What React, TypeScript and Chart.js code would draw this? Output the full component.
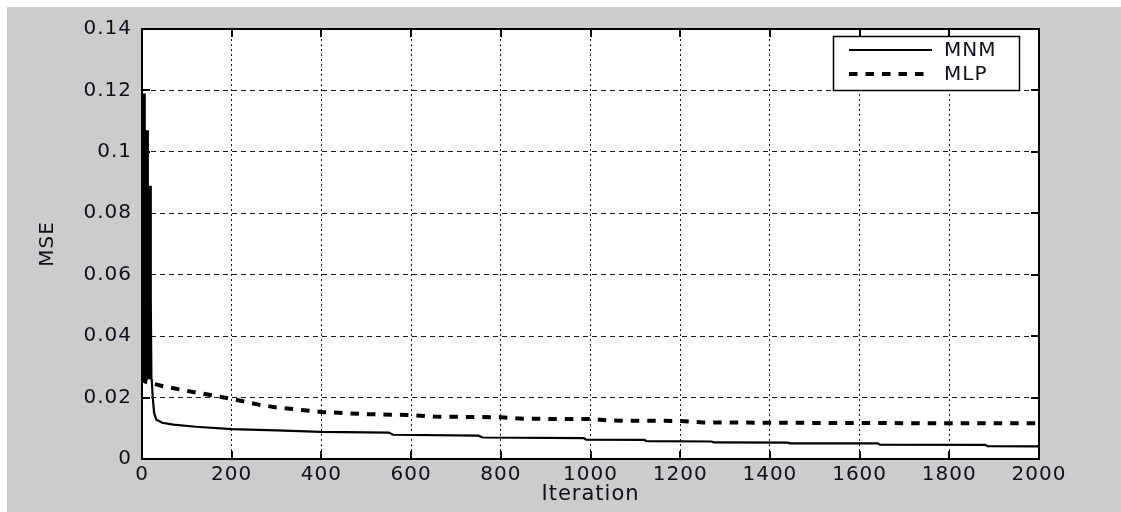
import React, { useEffect, useRef } from 'react';
import { Chart, registerables } from 'chart.js';

Chart.register(...registerables);

// ---- data ----
const mnmIter = [0, 1, 2, 3, 4, 5, 6, 7, 8, 9, 10, 11, 12, 13, 14, 15, 16, 17, 18, 19, 20, 21, 22, 24, 27, 32, 45, 70, 120, 200, 300, 400, 550, 560, 750, 760, 985, 990, 1120, 1125, 1270, 1275, 1440, 1445, 1640, 1645, 1880, 1885, 2000];
const mnmMse = [0.119, 0.026, 0.119, 0.026, 0.119, 0.026, 0.119, 0.026, 0.107, 0.026, 0.107, 0.026, 0.107, 0.026, 0.089, 0.026, 0.089, 0.026, 0.089, 0.026, 0.053, 0.026, 0.025, 0.02, 0.015, 0.0128, 0.0118, 0.0112, 0.0105, 0.0097, 0.0093, 0.0088, 0.0086, 0.0079, 0.0076, 0.0070, 0.0068, 0.0063, 0.0062, 0.0058, 0.0057, 0.0054, 0.0053, 0.0051, 0.0051, 0.0047, 0.0046, 0.0042, 0.0041];

const mlpIter = [0, 3, 10, 25, 50, 100, 130, 200, 260, 300, 400, 500, 600, 650, 800, 850, 1000, 1050, 1200, 1250, 1600, 2000];
const mlpMse = [0.086, 0.0255, 0.025, 0.0245, 0.0236, 0.0222, 0.0214, 0.0196, 0.0177, 0.0168, 0.0153, 0.0146, 0.0143, 0.0138, 0.0136, 0.0131, 0.013, 0.0125, 0.0124, 0.0119, 0.0117, 0.0116];

const xTickValues = [0, 200, 400, 600, 800, 1000, 1200, 1400, 1600, 1800, 2000];
const xTickLabels = ['0', '200', '400', '600', '800', '1000', '1200', '1400', '1600', '1800', '2000'];
const yTickValues = [0, 0.02, 0.04, 0.06, 0.08, 0.1, 0.12, 0.14];
const yTickLabels = ['0', '0.02', '0.04', '0.06', '0.08', '0.1', '0.12', '0.14'];

const seriesLabels = ['MNM', 'MLP'];
const xTitle = 'Iteration';
const yTitle = 'MSE';

const FONT = "'DejaVu Sans', 'Liberation Sans', sans-serif";
const TEXT = '#10101c';

const matlabPlugin = {
  id: 'matlabLook',
  beforeDraw(chart: any) {
    const { ctx, chartArea: a } = chart;
    (ctx as any).letterSpacing = '1px';
    ctx.save();
    ctx.fillStyle = '#ffffff';
    ctx.fillRect(a.left, a.top, a.right - a.left, a.bottom - a.top);
    ctx.restore();
  },
  afterDraw(chart: any) {
    const { ctx, chartArea: a } = chart;
    const xs = chart.scales.x;
    const ys = chart.scales.y;
    ctx.save();
    ctx.setLineDash([]);
    ctx.strokeStyle = '#000';
    ctx.lineWidth = 2;
    const tl = 8;
    ctx.beginPath();
    xs.ticks.forEach((t: any) => {
      const px = Math.round(xs.getPixelForValue(t.value));
      ctx.moveTo(px, a.bottom); ctx.lineTo(px, a.bottom - tl);
      ctx.moveTo(px, a.top); ctx.lineTo(px, a.top + tl);
    });
    ys.ticks.forEach((t: any) => {
      const py = Math.round(ys.getPixelForValue(t.value));
      ctx.moveTo(a.left, py); ctx.lineTo(a.left + tl, py);
      ctx.moveTo(a.right, py); ctx.lineTo(a.right - tl, py);
    });
    ctx.stroke();
    ctx.strokeRect(Math.round(a.left), Math.round(a.top), Math.round(a.right - a.left), Math.round(a.bottom - a.top));

    // legend box (top-right, inside the axes)
    const bx = a.right - 206, by = a.top + 7, bw = 186, bh = 54;
    ctx.fillStyle = '#ffffff';
    ctx.fillRect(bx, by, bw, bh);
    ctx.lineWidth = 1.5;
    ctx.strokeStyle = '#000';
    ctx.strokeRect(bx + 0.5, by + 0.5, bw, bh);
    const ds = chart.data.datasets;
    const rows = [by + 14, by + 38];
    ds.forEach((d: any, i: number) => {
      const y = rows[i];
      ctx.beginPath();
      ctx.strokeStyle = d.borderColor;
      ctx.lineWidth = d.borderWidth;
      ctx.lineCap = 'butt';
      ctx.setLineDash(d.borderDash || []);
      ctx.moveTo(bx + 16, y);
      ctx.lineTo(bx + (d.borderDash ? 91 : 99), y);
      ctx.stroke();
      ctx.setLineDash([]);
      ctx.fillStyle = TEXT;
      ctx.font = `20px ${FONT}`;
      ctx.textBaseline = 'middle';
      ctx.textAlign = 'left';
      ctx.fillText(d.label, bx + 111, y + 1);
    });
    ctx.restore();
  },
};

export default function App() {
  const ref = useRef<HTMLCanvasElement>(null);
  useEffect(() => {
    document.body.style.margin = '0';
    const canvas = ref.current!;
    const chart = new Chart(canvas, {
      type: 'line',
      data: {
        datasets: [
          {
            label: seriesLabels[0],
            data: mnmIter.map((x, i) => ({ x, y: mnmMse[i] })),
            borderColor: '#000000',
            borderWidth: 2.2,
            pointRadius: 0,
            tension: 0,
          },
          {
            label: seriesLabels[1],
            data: mlpIter.map((x, i) => ({ x, y: mlpMse[i] })),
            borderColor: '#000000',
            borderWidth: 4,
            borderDash: [8.5, 8],
            borderCapStyle: 'butt',
            pointRadius: 0,
            tension: 0,
          },
        ],
      },
      options: {
        animation: false,
        responsive: false,
        devicePixelRatio: 1,
        layout: { padding: { top: 20, right: 82, left: 0, bottom: 0 } },
        plugins: { legend: { display: false }, tooltip: { enabled: false } },
        scales: {
          x: {
            type: 'linear',
            min: 0,
            max: 2000,
            afterFit: (s: any) => { s.height = 53; },
            afterBuildTicks: (s: any) => { s.ticks = xTickValues.map((v) => ({ value: v })); },
            ticks: {
              padding: 4,
              color: TEXT,
              autoSkip: false,
              maxRotation: 0,
              font: { family: FONT, size: 20 },
              callback: (_v: any, i: number) => xTickLabels[i],
            },
            grid: { color: '#1a1a1a', lineWidth: 1, drawTicks: false },
            border: { display: false, dash: [2, 3] },
            title: {
              display: true,
              text: xTitle,
              color: TEXT,
              font: { family: FONT, size: 21 },
              padding: { top: 0, bottom: 5 },
            },
          },
          y: {
            type: 'linear',
            min: 0,
            max: 0.14,
            afterFit: (s: any) => { s.width = 135; },
            afterBuildTicks: (s: any) => { s.ticks = yTickValues.map((v) => ({ value: v })); },
            ticks: {
              padding: 10,
              color: TEXT,
              autoSkip: false,
              font: { family: FONT, size: 20 },
              callback: (_v: any, i: number) => yTickLabels[i],
            },
            grid: { color: '#1a1a1a', lineWidth: 1, drawTicks: false },
            border: { display: false, dash: [5, 4] },
            title: {
              display: true,
              text: yTitle,
              color: TEXT,
              font: { family: FONT, size: 20 },
              padding: { top: 29, bottom: 0 },
            },
          },
        },
      },
      plugins: [matlabPlugin],
    } as any);
    return () => chart.destroy();
  }, []);
  return (
    <div style={{ position: 'absolute', left: 7, top: 7, width: 1114, height: 505, background: '#cccccc' }}>
      <canvas ref={ref} width={1114} height={505} style={{ display: 'block', width: 1114, height: 505 }} />
    </div>
  );
}
